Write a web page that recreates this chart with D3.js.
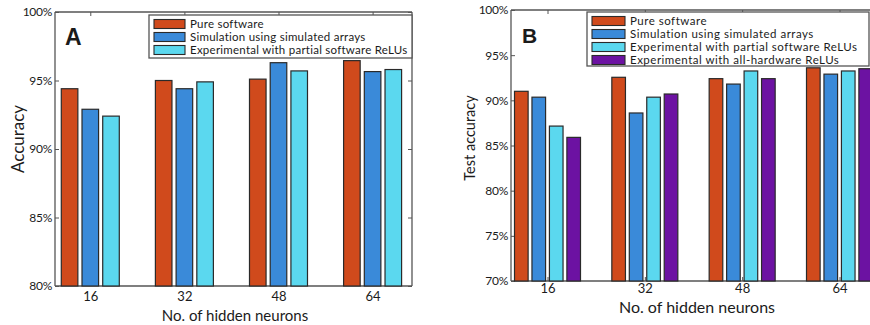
<!DOCTYPE html>
<html>
<head>
<script src="https://d3js.org/d3.v7.min.js"></script>
<style>
body { margin: 0; background: #fff; }
text { font-family: Lato, "Liberation Sans", sans-serif; fill: #1b1b1b; }
</style>
</head>
<body>
<div id="viz"></div>
<script>
// data
var neurons = [16, 32, 48, 64];

var seriesA = ["Pure software", "Simulation using simulated arrays", "Experimental with partial software ReLUs"];
var pureA = [94.4, 95.0, 95.1, 96.45];
var simA = [92.9, 94.4, 96.3, 95.65];
var partialA = [92.4, 94.9, 95.7, 95.8];
var yTicksA = [80, 85, 90, 95, 100];

var seriesB = ["Pure software", "Simulation using simulated arrays", "Experimental with partial software ReLUs", "Experimental with all-hardware ReLUs"];
var pureB = [91.0, 92.55, 92.4, 93.6];
var simB = [90.35, 88.6, 91.8, 92.9];
var partialB = [87.15, 90.35, 93.25, 93.25];
var hardwareB = [85.9, 90.7, 92.4, 93.5];
var yTicksB = [70, 75, 80, 85, 90, 95, 100];

var colors = ["#d04a1c", "#3a8ad9", "#5bd8ef", "#6c12a2"];

var svg = d3.select("#viz").append("svg")
    .attr("width", 870)
    .attr("height", 325);

function drawPanel(opt) {
  var x = d3.scaleLinear().domain(opt.xDomain).range([opt.left, opt.right]);
  var y = d3.scaleLinear().domain([opt.yTicks[0], 100]).range([opt.bottom, opt.top]);
  var inner = d3.scaleBand().domain(d3.range(opt.series.length))
      .range([-opt.groupW / 2, opt.groupW / 2]).paddingInner(opt.pad);

  var g = svg.append("g");

  // frame
  g.append("line").attr("x1", opt.left).attr("x2", opt.right).attr("y1", opt.top).attr("y2", opt.top)
    .attr("stroke", "#555").attr("stroke-width", 1.3);
  g.append("line").attr("x1", opt.left).attr("x2", opt.left).attr("y1", opt.top).attr("y2", opt.bottom)
    .attr("stroke", "#555").attr("stroke-width", 1.3);
  g.append("line").attr("x1", opt.right).attr("x2", opt.right).attr("y1", opt.top).attr("y2", opt.bottom)
    .attr("stroke", "#555").attr("stroke-width", 1.3);

  // top ticks (inward)
  g.append("g").attr("transform", "translate(0," + opt.top + ")")
    .call(d3.axisTop(x).tickValues(neurons).tickSize(-4).tickFormat(""))
    .call(function(a) { a.select(".domain").remove(); a.selectAll("line").attr("stroke", "#555"); });

  // right ticks
  g.append("g").attr("transform", "translate(" + opt.right + ",0)")
    .call(d3.axisRight(y).tickValues(opt.yTicks).tickSize(-4).tickFormat(""))
    .call(function(a) { a.select(".domain").remove(); a.selectAll("line").attr("stroke", "#555"); });

  // left axis
  g.append("g").attr("transform", "translate(" + opt.left + ",0)")
    .call(d3.axisLeft(y).tickValues(opt.yTicks).tickSize(-4).tickPadding(3)
      .tickFormat(function(d) { return d + "%"; }))
    .call(function(a) {
      a.select(".domain").remove();
      a.selectAll("line").attr("stroke", "#555");
      a.selectAll("text").style("font-size", "12px").attr("fill", "#1b1b1b").style("letter-spacing", "-0.3px");
    });

  // bottom axis
  g.append("g").attr("transform", "translate(0," + opt.bottom + ")")
    .call(d3.axisBottom(x).tickValues(neurons).tickSize(-4).tickPadding(opt.xTickPad))
    .call(function(a) {
      a.select(".domain").attr("stroke", "#555").attr("stroke-width", 1.3)
        .attr("d", "M" + opt.left + ",0H" + opt.right);
      a.selectAll("line").attr("stroke", "#555");
      a.selectAll("text").style("font-size", "13px").attr("fill", "#1b1b1b");
    });

  // bars
  opt.values.forEach(function(vals, si) {
    g.append("g").selectAll("rect").data(vals).join("rect")
      .attr("x", function(d, i) { return x(neurons[i]) + inner(si); })
      .attr("width", inner.bandwidth())
      .attr("y", function(d) { return y(d); })
      .attr("height", function(d) { return opt.bottom - y(d); })
      .attr("fill", colors[si])
      .attr("stroke", "#2a2a2a")
      .attr("stroke-width", 1.2);
  });

  // legend
  var lg = g.append("g");
  lg.append("rect").attr("x", opt.legX).attr("y", opt.legY)
    .attr("width", opt.legW).attr("height", opt.legH)
    .attr("fill", "#fff").attr("stroke", "#555").attr("stroke-width", 1.3);
  opt.series.forEach(function(name, i) {
    var cy = opt.legY + opt.legFirst + i * opt.legStep;
    lg.append("rect").attr("x", opt.legX + 5).attr("y", cy - 4.5)
      .attr("width", opt.swW).attr("height", 9)
      .attr("fill", colors[i]).attr("stroke", "#2a2a2a").attr("stroke-width", 1.1);
    lg.append("text").attr("x", opt.legX + opt.swW + 10).attr("y", cy + 4)
      .style("font-size", opt.legFont + "px")
      .style("letter-spacing", opt.legSpacing + "px").text(name);
  });

  // panel letter
  g.append("text").attr("x", opt.left + opt.letterDx).attr("y", opt.letterY)
    .style("font-family", "'Liberation Sans', Arial, sans-serif")
    .style("font-weight", "bold").style("font-size", opt.letterSize + "px")
    .attr("fill", "#000").text(opt.letter);

  // axis titles
  g.append("text").attr("transform", "translate(" + opt.yTitleX + "," + opt.yTitleY + ") rotate(-90)")
    .attr("text-anchor", "middle").attr("dy", "0.35em")
    .style("font-size", opt.yTitleSize + "px").text(opt.yTitle);
  g.append("text").attr("x", opt.xTitleX).attr("y", opt.xTitleY)
    .attr("text-anchor", "middle").attr("dy", "0.35em")
    .style("font-size", opt.titleSize + "px").text("No. of hidden neurons");
}

drawPanel({
  letter: "A", letterDx: 10, letterY: 45, letterSize: 23,
  left: 55, right: 412, top: 12, bottom: 286,
  xDomain: [10, 70.7], yTicks: yTicksA,
  series: seriesA, values: [pureA, simA, partialA],
  groupW: 58, pad: 0.2, xTickPad: 6,
  legX: 149, legY: 15, legW: 263, legH: 43, legFirst: 9, legStep: 13, swW: 31, legFont: 11.5, legSpacing: 0.25,
  yTitle: "Accuracy", yTitleX: 18, yTitleY: 139, yTitleSize: 17,
  xTitleX: 235, xTitleY: 316, titleSize: 15
});

drawPanel({
  letter: "B", letterDx: 11, letterY: 43, letterSize: 21,
  left: 511, right: 876, top: 10, bottom: 281,
  xDomain: [10, 70], yTicks: yTicksB,
  series: seriesB, values: [pureB, simB, partialB, hardwareB],
  groupW: 66, pad: 0.22, xTickPad: 3,
  legX: 587, legY: 12, legW: 282, legH: 54, legFirst: 9, legStep: 13, swW: 33, legFont: 11.5, legSpacing: 0.5,
  yTitle: "Test accuracy", yTitleX: 470, yTitleY: 138, yTitleSize: 14.5,
  xTitleX: 697, xTitleY: 307, titleSize: 16
});
</script>
</body>
</html>
